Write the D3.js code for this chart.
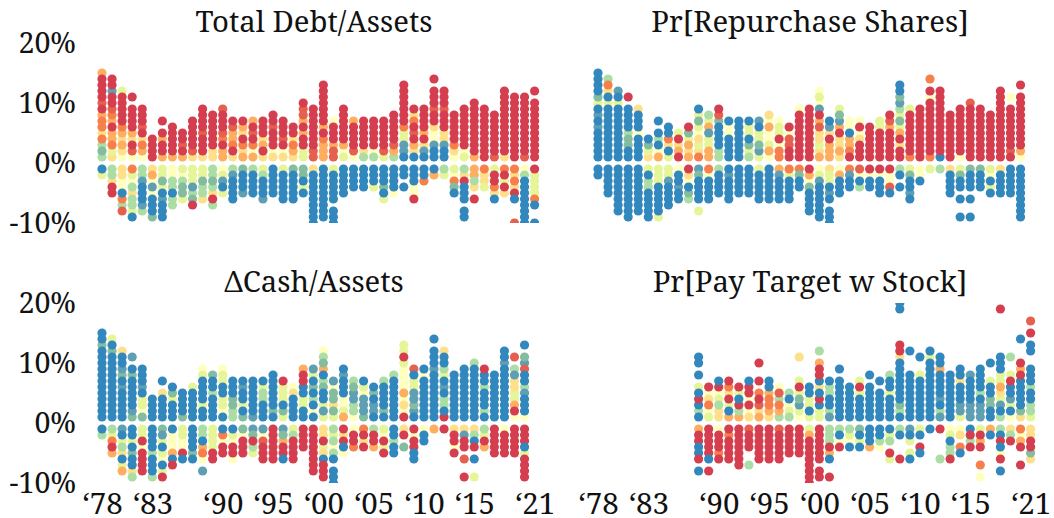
<!DOCTYPE html>
<html><head><meta charset="utf-8">
<script src="https://cdn.jsdelivr.net/npm/d3@7"></script>
<style>html,body{margin:0;padding:0;background:#fff}svg{display:block}
text{font-family:"Noto Serif","Droid Serif","DejaVu Serif",serif;fill:#111}</style>
</head><body><div id="chart"></div>
<script>
const yearLabels = ["‘78","‘83","‘90","‘95","‘00","‘05","‘10","‘15","‘21"];
const labelYears = [1978,1983,1990,1995,2000,2005,2010,2015,2021];
const yTicks = [20,10,0,-10];
const titles = ["Total Debt/Assets","Pr[Repurchase Shares]","ΔCash/Assets","Pr[Pay Target w Stock]"];
// Each string is one year: the decile class of the firms at +1%, +2%, ... (or -1%, -2%, ...); "." = none.
const classCodes  = ["R","e","O","o","y","Y","l","g","a","b","B"];
const classColors = ["#d53e4f","#e5604f","#f67f4b","#fdae61","#fee08b","#ffffbf","#e6f598","#abdda4","#84bc9f","#5f9fb3","#3288bd"];
const classRank   = [5,4,3,2,1,0,1,2,3,3,5];

const debtUp = ["gagOyOOoReRRRRo","ylOooRoOeRRbRR","YyoyoORRRRRl","YeRyoRRRR.R","YoOyReRRR","RRRR","oRRoR.R","oRRRRR","oReRR","yeRRRRR","yRRReRRRR","yyRRRRRR","ooROeRRRe","yROooeR","oyORyoR","oYOReRo","yRoyRRR","yYRRReRR","yYReRRR","yoOyRR","llRRoRoeeR","eeRRRRRRR","oooORoRRRRRRR","eeoRRRY","lYoRRRRRR","YeRRRRo","gyRRRRR","gYRRRRR","leRRRRR","goeRRRRR","BbbllORRRRRRR","ByoReROyR","BbyRoRRRR","BBbYYyRReRRR.R","BBbyyRRReRRR","YyORRRRR","lYRRRRRRR","oRRRRRRRRR","RRRRRRRRR","eRRRRRRR","yRRRRRRRRRRR","RRRRRRRRRRR","eRRRRRRRRRR","RRRRRRRRRR.R"];
const debtDown = ["Bl","ggyRR","yyYYBOge","OlYgygglB","ggbBBBbg","yoYbYBBBa","llalBbBBB","YYggBgg","lYgaal","lllbgaR","llaggy","ggagyRg","YlbBl","gbBBBB","aBBBb","gBBBB","lgBBBb","BBBBB","lBBBBB","aBBBBB","aaBlB","yBBBBBBBBB","BBBBBBBBB","lBBBBB.BBB","BBBBB","BBBB","BBBB","BBBl","BBBaBl","BBBBY","BB.B","BBBYYR","BBO","Bo","gl","lYOaB","gyRBBB.BB","oogy.R","Oyyl","lRROyB","ORlRy","OyOyRB...e","YgBBBBBBBB","RllllOB..B"];
const repurchaseUp = ["BBBBBbBbBlaBBBB","BBBBBBBBBlByOg","BBBBBBBBBlBb","BBaagBBBB.R","BBBBYBBBy","ylaB","oYBgB.B","lByOBB","RoyRl","oyolaR","OylyYlalB","oollbolg","ggBBBBaeR","BBBBYYB","BBBBBBB","glaBllB","lballBb","YolYYoYy","OOYRllY","RReeYR","RRRRRRRRY","RRRRRRRRR","oylyyeoRbYlY","oooRybB","yoyyRobal","ROooBYY","RRRyYRY","RRRRRR","RRRRRll","RRRRRoeR","RRyRolalgbaBB","ORRRRRRRl","RRRRRRRRR","ORRRRRRRRRYR.O","BRRRRRRRRRRR","RRRRRRRR","YRRRRRRRR","RRRRRRRRRe","RRRRRRRRR","RRRRRRRR","RRRRRRRRRRRR","ReRRRRRRR.Y","YoRRRRRRRRR.R"];
const repurchaseDown = ["BB","BBBBB","BBBBBBBB","BBBBBBBBB","BBBBBBBB","lBggBBBBB","lllBBBBBl","llbBBBB","YBBbBB","RyYBag","baBBBB.l","OYBBBB","gBBBB","BbBBBB","BBBBB","BBBBB","lBBBBB","BBBBBB","obBBBB","OlBBBB","OaBB","RoYaBBBB","YlbBBBBBB","yllBbB.BBB","YoBBB","ObBB","eYBg","RYBB","RYBBB","RYYeB","gB.B","laBBbB","YYB","l","g","yBBBB","laBB.B..B","aBBB.B..B","aBBB","lYBlB","yBBBB","BBBBB","BBBBBBBBB"];
const cashUp = ["BBBBBBBBBBBBaBB","BBBBBBBBBBBaBl","BBBBBbBabBBy","abBBBBBaB.b","aYllBbBBB","BBBB","BBBBy.B","BBBlaB","aBBBB","BBBBBl","BBlBBBBlY","BBBBgBBa","BYllBBllY","ggaaBBB","aBlBBbB","bBBBBBB","BBBgglB","BaBBBBBB","laBlllR","BBBByY","BBllBBRRo","BYBgBaBlb","lblBBagBoagY","layaaYb","olYYBBBbB","Yggbbag","abbbYlB","BbbBaB","BaBBBBg","BBBBBBBg","RYyYoYYYYlRll","BbabbllBe","BBBBBBBYB","BBBBBBBBbBBB.B","RBggBbBlgBBy","BBBBBBBB","BBBBBBBBB","BBBBBBBBBg","BgBBBgBBR","BBBBBBBB","BBBBBBBBBbBB","YRollyybg.e","YBBBbgBBeba.B"];
const cashDown = ["Bg","glORo","bBlgyBlo","BBlBaBByg","llRYRRRR","BBBBgBBBg","ablBlYBlR","BYYYoBR","llYYRB","BBBBaB","ggBoOY.b","llllRR","BOYRR","BlYRRY","aYRRR","baRgl","bYeRRR","RRRRRR","baoRRB","lgRRRR","RRRR","RRRRRRRR","yyRlyBRRR","glgYgB.BBB","RyRBY","YRRO","ORyR","gRRo","lYRlR","BBgBB","yR.a","RYRRBB","YBB","o","R","yRRYR","ybRR.e..R","ygBR.B..l","glRo","RRRRR","YRRRR","RRRRR","RRRBlRRRR"];
const stockFirstYear = 1988;
const stockUp = ["BgBRBl.B.BB","lYOyYR","yyglYRB","oBlRyOR","ogRBlR","yYRYRRB","oyeRO.R..R","yoOOoBB","goOgeY","glYBg","YlbalRl...y","lBllBB","llBRByBRRo.g","bgBBggB","BBBBBBB.B","BBBBBB","BBBBlRl","BBBBBB.B","BBBBB.B","BBBBlBBg","BgaBBBBBBByRR.....BB","BBBBBBBB...B","BBBBBBBl..B","BBBBBBBBBBlB","bgBbBBBBoBB","BBBBBBBB","lbbBBByBB","bbbBBBBb","bbbBgBBBB","BBaaBBl..B","gBblyollBBB.......R","YBlbBBRl..g","yaBBBBBRoR...B","lggBBgBBB..BB.R.e"];
const stockDown = ["oRRBBR.B","RRRRRB.R","YRRROR","RORRRR","RRRRRRR","eRRR..g","RRRRRR","RRRRRR","eRRRRR","RRRRR","RRRRR","loRRRRRRRR","RRRRRR.RR","gggRoB..R","gBYR","glYB","aBlB","BBBo","BBgY","Blg.Rl","gB...R","bBl.lB","lB.RB","B","R....g","YlBggR","Yy.OB","BRgR","lRoR..O.Y","oB","gBRBYR.B","ygR","OYoR..R","yyRRay"];

const W = 1054, H = 518;
const colour = d3.scaleOrdinal(classCodes, classColors);
const rank = d3.scaleOrdinal(classCodes, classRank);
const panels = [
  {title:titles[0], up:debtUp, down:debtDown, first:1978, x0:102, top:43, axis:false, titleY:32},
  {title:titles[1], up:repurchaseUp, down:repurchaseDown, first:1978, x0:598, top:43, axis:false, titleY:32},
  {title:titles[2], up:cashUp, down:cashDown, first:1978, x0:102, top:303, axis:true, titleY:292},
  {title:titles[3], up:stockUp, down:stockDown, first:stockFirstYear, x0:598, top:303, axis:true, titleY:292}
];
const svg = d3.select("#chart").append("svg").attr("width",W).attr("height",H);
panels.forEach((p,pi)=>{
  const x = d3.scaleLinear([1978,2021],[p.x0,p.x0+432.6]);
  const y = d3.scaleLinear([-10,20],[p.top+180,p.top]);
  const cid = "clip"+pi;
  svg.append("clipPath").attr("id",cid).append("rect")
     .attr("x",p.x0-12).attr("y",p.top).attr("width",460).attr("height",180);
  const dots=[];
  const collect=(list,sign)=>list.forEach((s,i)=>[...s].forEach((c,k)=>{
    if(c!==".") dots.push({year:p.first+i,value:sign*(k+1),c});
  }));
  collect(p.up,1); collect(p.down,-1);
  dots.sort((a,b)=>d3.ascending(rank(a.c),rank(b.c))||d3.ascending(Math.abs(a.value),Math.abs(b.value)));
  svg.append("g").attr("clip-path",`url(#${cid})`).selectAll("circle").data(dots).join("circle")
     .attr("cx",d=>x(d.year)).attr("cy",d=>y(d.value)).attr("r",4.6).attr("fill",d=>colour(d.c));
  svg.append("text").attr("x",p.x0+212).attr("y",p.titleY).attr("text-anchor","middle")
     .style("font-size","29.3px").text(p.title);
  if(pi%2===0){
    const ay=svg.append("g").attr("transform","translate(76,0)")
      .call(d3.axisLeft(y).tickValues(yTicks).tickSize(0).tickPadding(0).tickFormat(d=>d+"%"));
    ay.select(".domain").remove();
    ay.selectAll("text").attr("fill","#111").style("font-size","28.6px").style("font-family",null);
  }
  if(p.axis){
    const ax=svg.append("g").attr("transform",`translate(0,${p.top+180})`)
      .call(d3.axisBottom(x).tickValues(labelYears).tickSize(0).tickPadding(10).tickFormat((d,i)=>yearLabels[i]));
    ax.select(".domain").remove();
    ax.selectAll("text").attr("fill","#111").style("font-size","29.5px").style("font-family",null);
  }
});
</script></body></html>
